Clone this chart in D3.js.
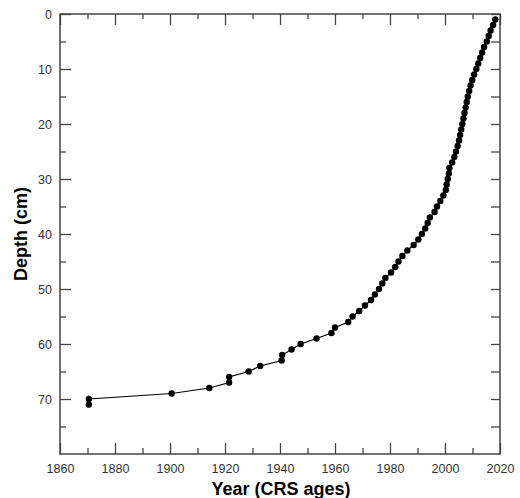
<!DOCTYPE html>
<html>
<head>
<meta charset="utf-8">
<script src="https://cdn.jsdelivr.net/npm/d3@7/dist/d3.min.js"></script>
<style>
  body { margin: 0; background: #fff; }
  svg text { font-family: "Liberation Sans", Arial, sans-serif; }
</style>
</head>
<body>
<svg id="chart" width="520" height="498"></svg>
<script>
'use strict';

// depth (cm) of each dated slice, and its CRS year
const depths = [1, 2, 3, 4, 5, 6, 7, 8, 9, 10, 11, 12, 13, 14, 15, 16, 17, 18, 19, 20,
  21, 22, 23, 24, 25, 26, 27, 28, 29, 30, 31, 32, 33, 34, 35, 36, 37, 38, 39, 40,
  41, 42, 43, 44, 45, 46, 47, 48, 49, 50, 51, 52, 53, 54, 55, 56, 57, 58, 59, 60,
  61, 62, 63, 64, 65, 66, 67, 68, 69, 70, 71];
const years = [2018.3, 2017.5, 2016.6, 2015.9, 2015.2, 2014.2, 2013.5, 2012.8, 2012.1, 2011.4,
  2010.6, 2009.9, 2009.3, 2008.8, 2008.3, 2007.9, 2007.5, 2007.1, 2006.7, 2006.3,
  2005.9, 2005.5, 2005.1, 2004.6, 2004.0, 2003.4, 2002.6, 2001.6, 2001.4, 2001.0,
  2000.6, 2000.3, 1999.4, 1998.3, 1997.1, 1996.2, 1994.5, 1993.7, 1992.8, 1991.6,
  1990.3, 1988.6, 1986.3, 1984.5, 1983.1, 1981.9, 1980.4, 1978.3, 1977.2, 1976.0,
  1974.5, 1973.1, 1970.9, 1968.8, 1966.4, 1964.8, 1960.0, 1958.7, 1953.3, 1947.5,
  1944.2, 1940.8, 1940.6, 1932.8, 1928.6, 1921.5, 1921.5, 1914.3, 1900.6, 1870.5, 1870.5];

const xTicks = [1860, 1880, 1900, 1920, 1940, 1960, 1980, 2000, 2020];
const xMinor = [1870, 1890, 1910, 1930, 1950, 1970, 1990, 2010];
const yTicks = [0, 10, 20, 30, 40, 50, 60, 70];
const yMinor = [5, 15, 25, 35, 45, 55, 65, 75];

const data = depths.map((d, i) => ({depth: d, year: years[i]}));

const svg = d3.select('#chart');
const x0 = 60, x1 = 500, y0 = 14, y1 = 454;
const axisColor = '#444';

const x = d3.scaleLinear().domain([1860, 2020]).range([x0, x1]);
const y = d3.scaleLinear().domain([0, 80]).range([y0, y1]);

// frame
svg.append('rect')
  .attr('x', x0).attr('y', y0)
  .attr('width', x1 - x0).attr('height', y1 - y0)
  .attr('fill', 'none')
  .attr('stroke', axisColor)
  .attr('stroke-width', 1.5);

function ticks(g, axis, values, size, labels) {
  g.call(axis.tickValues(values).tickSize(-size).tickFormat(labels ? d3.format('d') : ''));
  g.select('.domain').remove();
  g.selectAll('.tick line').attr('stroke', axisColor).attr('stroke-width', 1.3);
  g.selectAll('.tick text').attr('fill', '#333').style('font-size', '12.5px');
}

// bottom
const gb = svg.append('g').attr('transform', 'translate(0,' + y1 + ')');
ticks(gb, d3.axisBottom(x), xTicks, 11, true);
gb.selectAll('.tick text').attr('y', 10).attr('dy', '0.71em');
svg.append('g').attr('transform', 'translate(0,' + y1 + ')')
  .call(g => ticks(g, d3.axisBottom(x), xMinor, 6, false));

// top
svg.append('g').attr('transform', 'translate(0,' + y0 + ')')
  .call(g => ticks(g, d3.axisTop(x), xTicks, 11, false));
svg.append('g').attr('transform', 'translate(0,' + y0 + ')')
  .call(g => ticks(g, d3.axisTop(x), xMinor, 5, false));

// left
const gl = svg.append('g').attr('transform', 'translate(' + x0 + ',0)');
ticks(gl, d3.axisLeft(y), yTicks, 11, true);
gl.selectAll('.tick text').attr('x', -8);
svg.append('g').attr('transform', 'translate(' + x0 + ',0)')
  .call(g => ticks(g, d3.axisLeft(y), yMinor, 6, false));

// right
svg.append('g').attr('transform', 'translate(' + x1 + ',0)')
  .call(g => ticks(g, d3.axisRight(y), yTicks.concat(yMinor), 9, false));

// line + points
const line = d3.line().x(d => x(d.year)).y(d => y(d.depth));

svg.append('path')
  .datum(data)
  .attr('d', line)
  .attr('fill', 'none')
  .attr('stroke', '#000')
  .attr('stroke-width', 1.2);

svg.append('g').selectAll('circle')
  .data(data)
  .join('circle')
    .attr('cx', d => x(d.year))
    .attr('cy', d => y(d.depth))
    .attr('r', 3.2)
    .attr('fill', '#000');

// axis titles
svg.append('text')
  .attr('x', 281)
  .attr('y', 495)
  .attr('text-anchor', 'middle')
  .style('font-size', '18px')
  .style('font-weight', 'bold')
  .text('Year (CRS ages)');

svg.append('text')
  .attr('transform', 'translate(27,' + (y0 + y1) / 2 + ') rotate(-90)')
  .attr('text-anchor', 'middle')
  .style('font-size', '18px')
  .style('font-weight', 'bold')
  .text('Depth (cm)');
</script>
</body>
</html>
